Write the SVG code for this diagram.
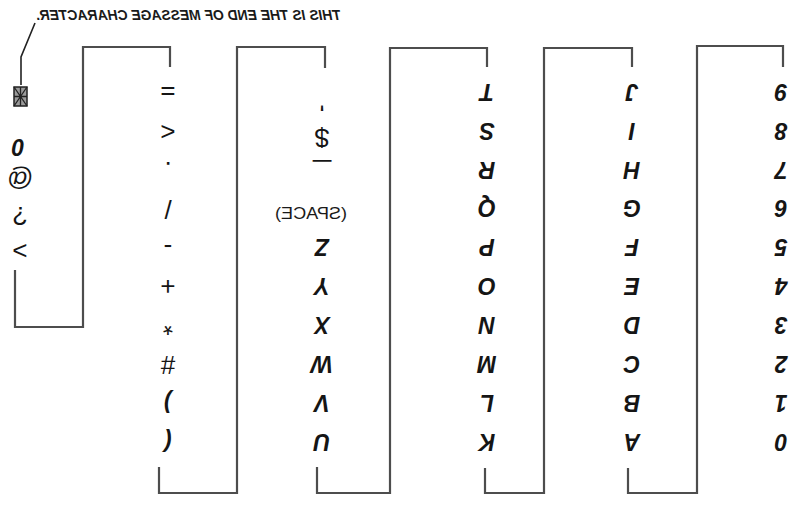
<svg xmlns="http://www.w3.org/2000/svg" width="804" height="508" viewBox="0 0 804 508">
<style>
  .conn { fill: none; stroke: #4d4d4d; stroke-width: 2.2; stroke-linejoin: miter; }
  .seg { font-family: "Liberation Sans", Arial, sans-serif; font-size: 23px; font-style: italic; font-weight: bold; fill: #151515; text-anchor: middle; }
  .sym { font-family: "Liberation Sans", Arial, sans-serif; font-size: 26px; font-weight: normal; fill: #151515; text-anchor: middle; }
  .lbl { font-family: "Liberation Sans", Arial, sans-serif; fill: #1a1a1a; text-anchor: middle; }
</style>
<rect width="804" height="508" fill="#ffffff"/>

<g id="connectors">
  <path class="conn" d="M15,270 V327 H83 V47 H170 V67"/>
  <path class="conn" d="M159,467 V493 H237 V47 H325 V68"/>
  <path class="conn" d="M317,467 V493 H390 V48 H487 V67"/>
  <path class="conn" d="M485,468 V493 H544 V48 H632 V67"/>
  <path class="conn" d="M628,468 V493 H697 V46 H783 V67"/>
  <path d="M21,85 V57 L35,23" fill="none" stroke="#222" stroke-width="1.6"/>
</g>

<g id="label-end-of-message">
  <text class="lbl" x="188.5" y="20" font-size="14" font-style="italic" font-weight="bold" textLength="305" lengthAdjust="spacingAndGlyphs" transform="matrix(-1 0 0 1 377 0)">THIS IS THE END OF MESSAGE CHARACTER.</text>
</g>

<g id="column-0">
  <g id="eom-char">
    <rect x="14" y="87" width="13" height="19" fill="#9a9a9a" stroke="#222" stroke-width="1.5"/>
    <path d="M14,87 L27,106 M27,87 L14,106 M20.5,87 V106 M14,96.5 H27" stroke="#222" stroke-width="1.3" fill="none"/>
  </g>
  <text class="seg" x="18" y="151" font-size="17" transform="rotate(180 18 145)">0</text>
  <text class="sym" x="20" y="186" font-size="25" font-weight="bold" transform="rotate(180 20 178)">@</text>
  <text class="sym" x="20" y="225" font-size="25" font-weight="bold" transform="rotate(180 20 216)">?</text>
  <text class="sym" x="20" y="258" transform="rotate(180 20 250)">&gt;</text>
</g>

<g id="column-1" transform="rotate(180 168 267)">
  <text class="seg" x="168" y="100">(</text>
  <text class="seg" x="168" y="139">)</text>
  <text class="sym" x="168" y="178" font-weight="bold">#</text>
  <text class="sym" x="168" y="217" font-weight="bold">*</text>
  <text class="sym" x="168" y="256">+</text>
  <text class="sym" x="168" y="295" font-weight="bold">-</text>
  <text class="sym" x="168" y="334">/</text>
  <text class="sym" x="168" y="372" font-weight="bold">.</text>
  <text class="sym" x="168" y="411">&lt;</text>
  <text class="sym" x="168" y="451">=</text>
</g>

<g id="column-2" transform="rotate(180 322 267)">
  <text class="seg" x="322" y="100">U</text>
  <text class="seg" x="322" y="139">V</text>
  <text class="seg" x="322" y="178">W</text>
  <text class="seg" x="322" y="217">X</text>
  <text class="seg" x="322" y="256">Y</text>
  <text class="seg" x="322" y="295">Z</text>
  <text class="sym" x="322" y="369" font-size="20" textLength="18" lengthAdjust="spacingAndGlyphs">_</text>
  <text class="sym" x="322" y="405" font-size="24" font-weight="bold">$</text>
  <text class="sym" x="322" y="441" font-size="22" font-weight="bold">'</text>
</g>
<g id="space-label">
  <text class="lbl" x="311" y="219" font-size="17" textLength="72" lengthAdjust="spacingAndGlyphs" transform="matrix(-1 0 0 1 622 0)">(SPACE)</text>
</g>

<g id="column-3" transform="rotate(180 487 267)">
  <text class="seg" x="487" y="100">K</text>
  <text class="seg" x="487" y="139">L</text>
  <text class="seg" x="487" y="178">M</text>
  <text class="seg" x="487" y="217">N</text>
  <text class="seg" x="487" y="256">O</text>
  <text class="seg" x="487" y="295">P</text>
  <text class="seg" x="487" y="334">Q</text>
  <text class="seg" x="487" y="372">R</text>
  <text class="seg" x="487" y="411">S</text>
  <text class="seg" x="487" y="450">T</text>
</g>

<g id="column-4" transform="rotate(180 632 267)">
  <text class="seg" x="632" y="100">A</text>
  <text class="seg" x="632" y="139">B</text>
  <text class="seg" x="632" y="178">C</text>
  <text class="seg" x="632" y="217">D</text>
  <text class="seg" x="632" y="256">E</text>
  <text class="seg" x="632" y="295">F</text>
  <text class="seg" x="632" y="334">G</text>
  <text class="seg" x="632" y="372">H</text>
  <text class="seg" x="632" y="411">I</text>
  <text class="seg" x="632" y="450">J</text>
</g>

<g id="column-5" transform="rotate(180 781 267)">
  <text class="seg" x="781" y="100">0</text>
  <text class="seg" x="781" y="139">1</text>
  <text class="seg" x="781" y="178">2</text>
  <text class="seg" x="781" y="217">3</text>
  <text class="seg" x="781" y="256">4</text>
  <text class="seg" x="781" y="295">5</text>
  <text class="seg" x="781" y="334">6</text>
  <text class="seg" x="781" y="372">7</text>
  <text class="seg" x="781" y="411">8</text>
  <text class="seg" x="781" y="450">9</text>
</g>
</svg>
